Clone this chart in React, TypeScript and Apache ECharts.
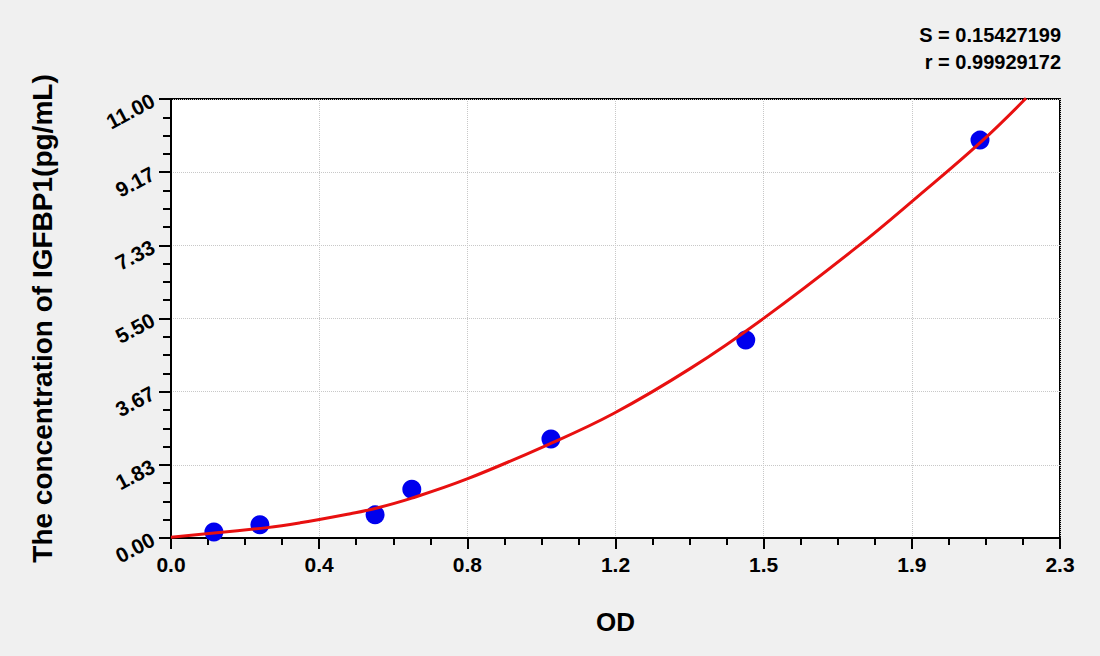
import React, { useEffect, useRef } from 'react';
import * as echarts from 'echarts';

// standard points (OD, concentration)
const odValues = [0.111, 0.23, 0.528, 0.623, 0.983, 1.487, 2.093];
const concValues = [0.15, 0.33, 0.58, 1.22, 2.48, 4.96, 9.97];

// fitted curve
const curveOd = [0, 0.249, 0.334, 0.464, 0.528, 0.623, 0.766, 0.973, 1.145, 1.344, 1.534, 1.776, 1.931, 2.095, 2.212];
const curveConc = [0.02, 0.26, 0.38, 0.61, 0.74, 1.0, 1.48, 2.33, 3.12, 4.25, 5.51, 7.3, 8.55, 9.92, 11.02];

const xTickLabels = ['0.0', '0.4', '0.8', '1.2', '1.5', '1.9', '2.3'];
const yTickLabels = ['0.00', '1.83', '3.67', '5.50', '7.33', '9.17', '11.00'];

const statLines = ['S = 0.15427199', 'r = 0.99929172'];

const FONT = "'Liberation Sans', Arial, sans-serif";

const App: React.FC = () => {
  const chartRef = useRef<HTMLDivElement | null>(null);

  useEffect(() => {
    if (!chartRef.current) return;
    const myChart = echarts.init(chartRef.current, null, { renderer: 'svg' });

    const xMax = 2.3;
    const yMax = 11;

    const option = {
      animation: false,
      backgroundColor: '#f0f0f0',
      textStyle: { fontFamily: FONT },
      grid: {
        left: 171,
        right: 40,
        top: 99,
        bottom: 118,
        show: true,
        backgroundColor: '#fff',
        borderColor: '#000',
        borderWidth: 2,
      },
      graphic: statLines.map((t, i) => ({
        type: 'text',
        right: 39,
        top: 25 + i * 27,
        style: {
          text: t,
          font: `bold 20px ${FONT}`,
          fill: '#000',
        },
      })),
      xAxis: {
        type: 'value',
        min: 0,
        max: xMax,
        interval: xMax / 6,
        name: 'OD',
        nameLocation: 'middle',
        nameGap: 71,
        nameTextStyle: { fontSize: 26, fontWeight: 'bold', color: '#000', fontFamily: FONT },
        axisLine: { show: true, lineStyle: { color: '#000', width: 2 } },
        axisTick: { show: true, inside: false, length: 11, lineStyle: { color: '#000', width: 2 } },
        minorTick: { show: true, splitNumber: 4, length: 7, lineStyle: { color: '#000', width: 2 } },
        axisLabel: {
          margin: 16,
          fontSize: 21,
          fontWeight: 'bold',
          color: '#000',
          fontFamily: FONT,
          formatter: (_v: number, i: number) => xTickLabels[i] ?? '',
        },
        splitLine: { show: true, lineStyle: { color: '#c8c8c8', type: 'dotted', width: 1 } },
      },
      yAxis: {
        type: 'value',
        min: 0,
        max: yMax,
        interval: yMax / 6,
        name: 'The concentration of IGFBP1(pg/mL)',
        nameLocation: 'middle',
        nameGap: 115,
        nameRotate: 90,
        nameTextStyle: { fontSize: 28, fontWeight: 'bold', color: '#000', fontFamily: FONT },
        axisLine: { show: true, lineStyle: { color: '#000', width: 2 } },
        axisTick: { show: true, inside: false, length: 12, lineStyle: { color: '#000', width: 2 } },
        minorTick: { show: true, splitNumber: 4, length: 8, lineStyle: { color: '#000', width: 2 } },
        axisLabel: {
          margin: 18,
          rotate: 28,
          fontSize: 21,
          fontWeight: 'bold',
          color: '#000',
          fontFamily: FONT,
          formatter: (_v: number, i: number) => yTickLabels[i] ?? '',
        },
        splitLine: { show: true, lineStyle: { color: '#c8c8c8', type: 'dotted', width: 1 } },
      },
      series: [
        {
          type: 'scatter',
          data: odValues.map((x, i) => [x, concValues[i]]),
          symbolSize: 19,
          itemStyle: { color: '#0000ee', opacity: 1 },
          z: 2,
        },
        {
          type: 'line',
          data: curveOd.map((x, i) => [x, curveConc[i]]),
          smooth: 0.4,
          showSymbol: false,
          clip: false,
          lineStyle: { color: '#e81010', width: 3 },
          z: 3,
        },
      ],
    };

    myChart.setOption(option);
    return () => {
      myChart.dispose();
    };
  }, []);

  return (
    <div
      ref={chartRef}
      style={{ position: 'fixed', left: 0, top: 0, width: '1100px', height: '656px' }}
    />
  );
};

export default App;
